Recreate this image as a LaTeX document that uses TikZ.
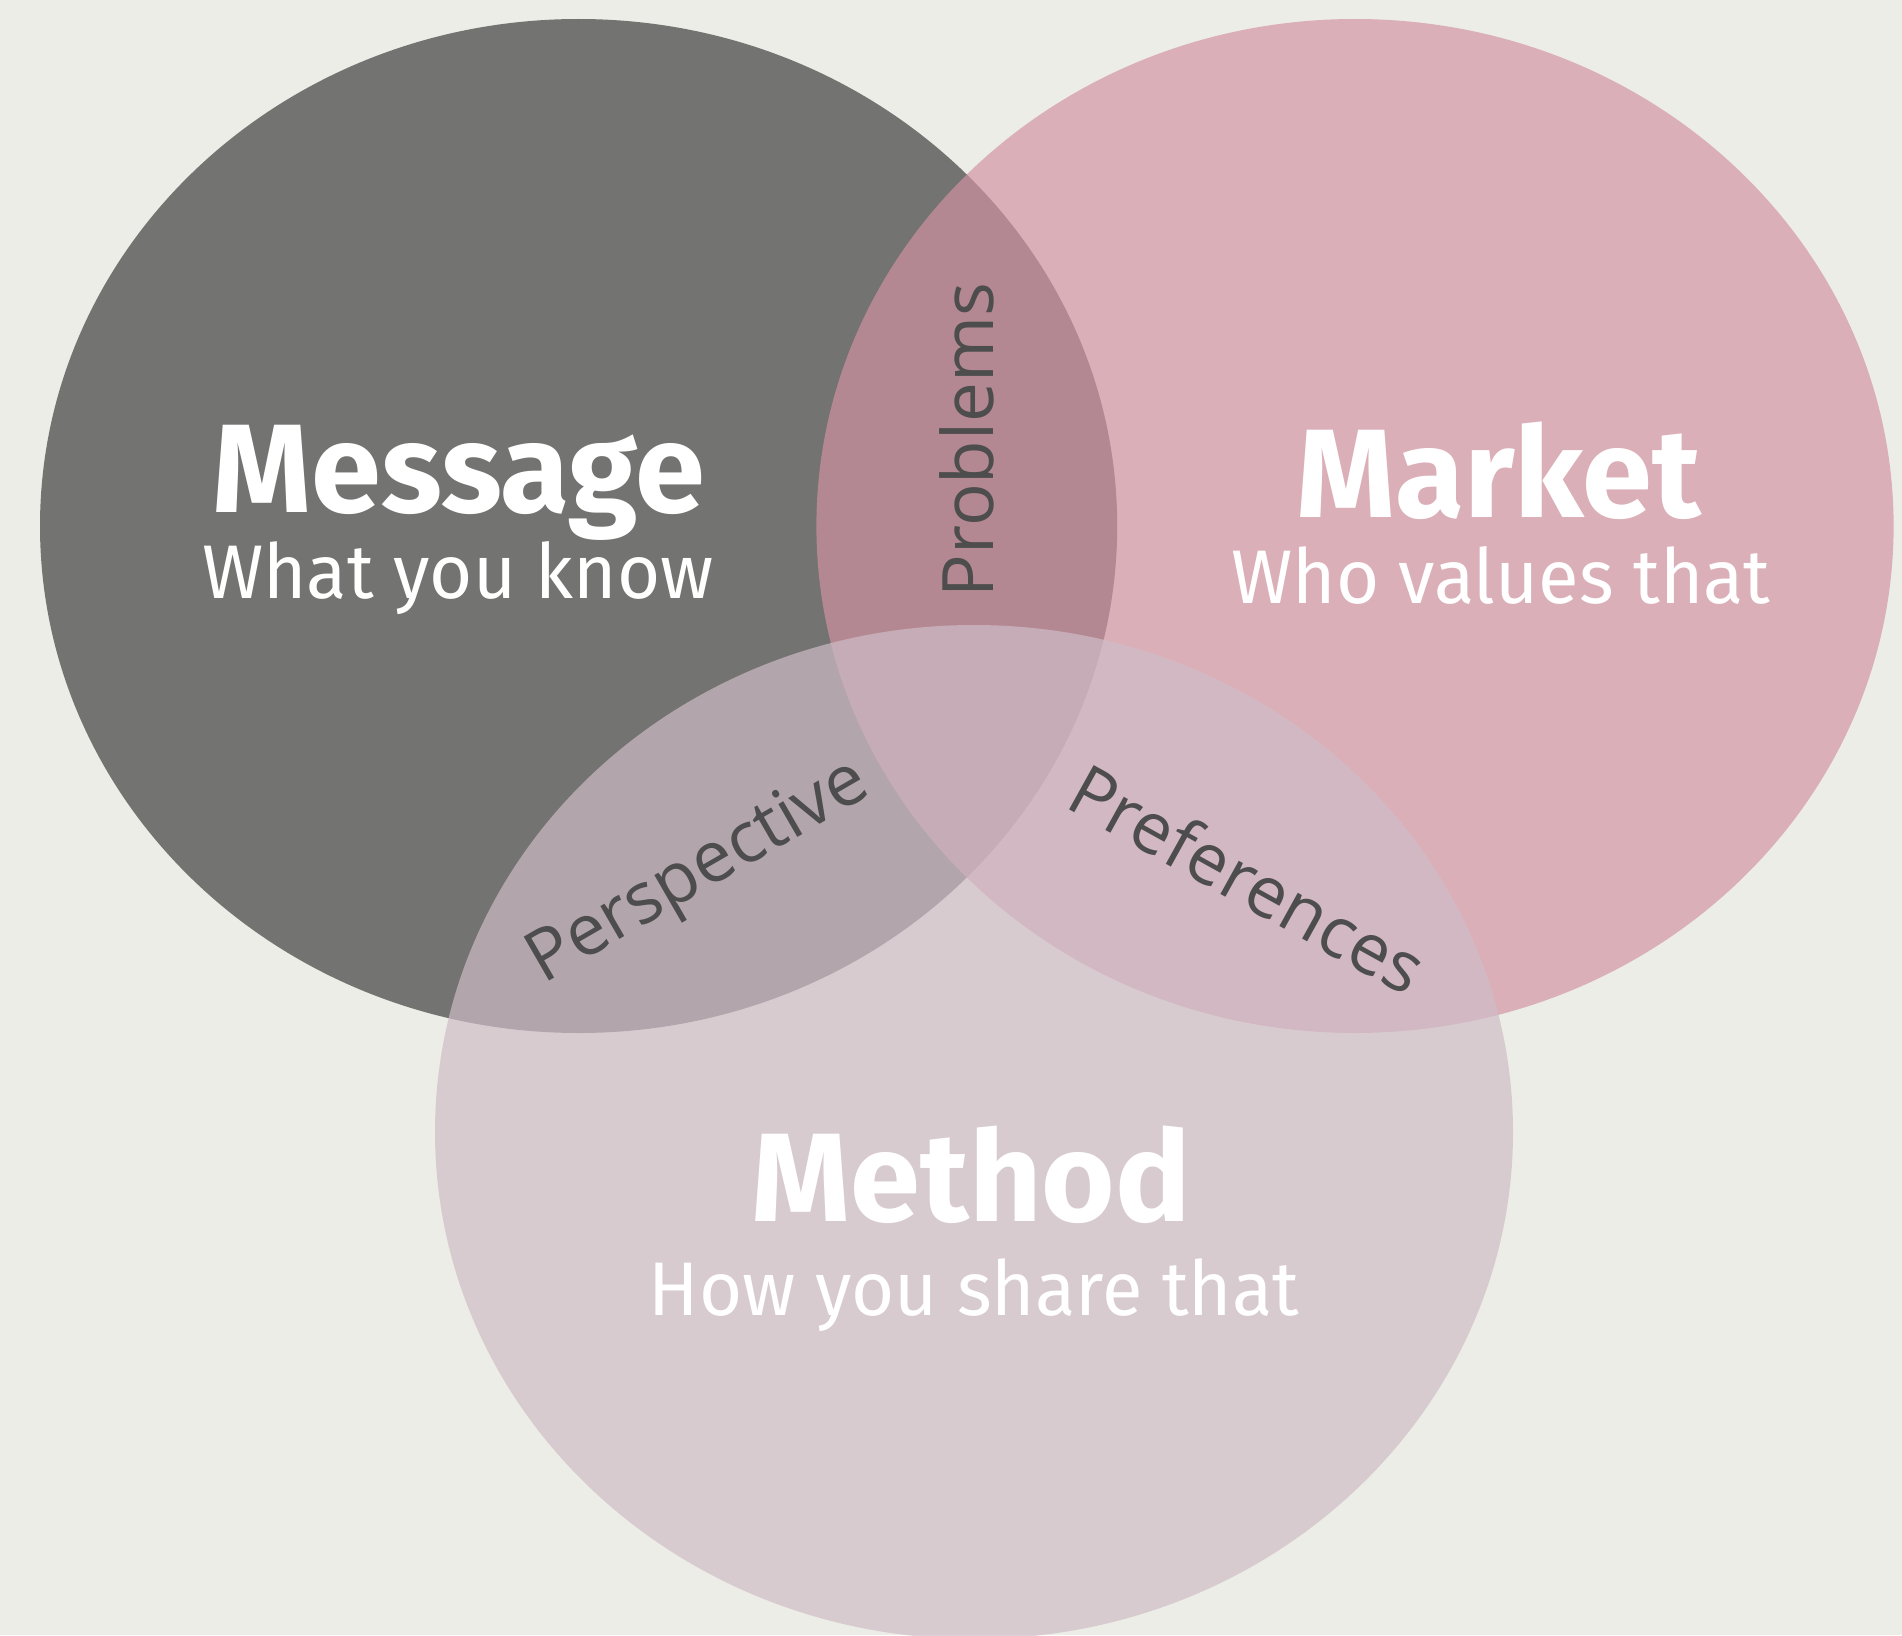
\documentclass[tikz,border=0pt]{standalone}
\usepackage{fontspec}
\setmainfont{Fira Sans}
\newfontfamily\subfont[FakeStretch=0.975]{Fira Sans}
\newfontfamily\labelfont{Open Sans}
\usetikzlibrary{positioning}

\definecolor{bgcol}{RGB}{236,237,231}
\definecolor{messagecol}{RGB}{115,115,113}
\definecolor{marketcol}{RGB}{211,146,162}
\definecolor{methodcol}{RGB}{207,189,199}
\definecolor{labelcol}{RGB}{77,77,77}

\tikzset{
  title/.style={text=white, anchor=base, inner sep=0pt, font=\fontsize{126}{130}\selectfont\bfseries},
  subtitle/.style={text=white, anchor=base, inner sep=0pt, font=\subfont\fontsize{76}{80}\selectfont},
  overlap/.style={text=labelcol, anchor=base, inner sep=0pt, font=\labelfont\fontsize{71}{75}\selectfont}
}

\begin{document}
\begin{tikzpicture}
  [x=1pt, y=-1pt]
  \fill[bgcol] (0,0) rectangle (1902,1635);
  \useasboundingbox (0,0) rectangle (1902,1635);
  % the three sets
  \fill[messagecol] (578.6,526) ellipse [x radius=538.6, y radius=507];
  \fill[marketcol, fill opacity=0.68] (1355,526) ellipse [x radius=538.6, y radius=507];
  \fill[methodcol, fill opacity=0.69] (974,1132) ellipse [x radius=539, y radius=507];
  % names
  \node[title] (message) at (458.5,512) {Message};
  \node[subtitle] (messagesub) at (458,598) {What you know};
  \node[title] (market) at (1498.5,517) {Market};
  \node[subtitle] (marketsub) at (1501,603) {Who values that};
  \node[title] (method) at (971.5,1221) {Method};
  \node[subtitle] (methodsub) at (974,1315) {How you share that};
  % overlaps
  \node[overlap, rotate=90] (problems) at (993,440) {Problems};
  \node[overlap, rotate=30] (perspective) at (708,889) {Perspective};
  \node[overlap, rotate=-29] (preferences) at (1235,902) {Preferences};
\end{tikzpicture}
\end{document}
